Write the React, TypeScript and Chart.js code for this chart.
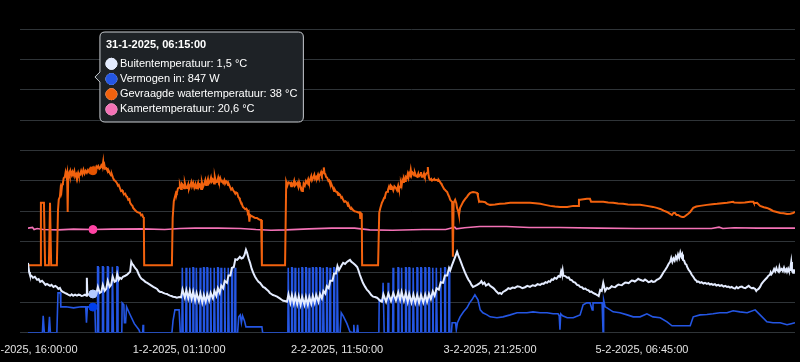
import React, { useEffect, useRef } from 'react';
import { Chart, registerables, Tooltip } from 'chart.js';

Chart.register(...registerables);

// Time axis: minutes since 30-1-2025 16:00:00
const startTimeUtc = Date.UTC(2025, 0, 30, 16, 0, 0);
const axisMaxMinute = 10100;
const tickMinutes = [0, 1990, 4070, 6085, 8085];
const hoverMinute = 855;

const seriesLabels = ['Buitentemperatuur', 'Vermogen in', 'Gevraagde watertemperatuur', 'Kamertemperatuur'];
const seriesUnits = ['°C', 'W', '°C', '°C'];
const seriesColors = ['#e4ecff', '#2456e3', '#f2620e', '#f472b6'];

// Buitentemperatuur (°C)
const buitenTemp: [number, number][] = [
  [0,10.7],[15,8.0],[25,7.2],[45,6.9],[65,6.3],[90,6.6],[120,5.7],[140,5.9],[160,5.1],[185,5.4],[210,4.8],[230,4.2],[250,4.5],[270,4.2],[290,3.9],[310,4.2],[335,3.6],[360,3.9],[380,3.6],[400,3.0],[420,3.3],[440,2.4],[460,2.1],[485,1.8],[515,1.5],[535,1.2],[555,1.0],[575,1.4],[595,1.0],[620,1.3],[645,1.0],[665,1.3],[685,1.2],[705,0.9],[725,1.0],[750,1.3],[770,1.0],[775,6.3],[782,1.2],[815,1.5],[835,1.3],[855,1.5],[880,1.6],
  [900,1.6],[920,3.6],[945,1.8],[965,2.1],[985,4.2],[1010,2.4],[1030,3.0],[1050,5.4],[1075,3.6],[1095,4.2],[1115,6.6],[1140,5.1],[1160,5.4],[1175,7.4],[1195,5.7],
  [1210,6.3],[1230,6.0],[1250,6.6],[1280,6.9],[1305,7.2],[1330,7.8],[1345,8.1],[1360,11.0],[1372,10.4],[1385,10.1],[1410,9.2],[1435,8.6],[1455,7.5],[1475,6.6],[1495,6.0],[1515,5.7],[1545,5.1],[1570,4.8],[1590,4.5],[1610,4.2],[1630,3.9],[1650,3.6],[1675,3.3],[1700,3.0],[1720,2.4],[1740,2.1],[1760,2.1],[1780,1.8],[1805,1.6],[1830,1.5],[1850,1.2],[1870,1.0],[1890,0.9],[1910,0.7],[1935,0.6],[1960,0.4],[1990,0.6],
  [2015,0.5],[2035,2.8],[2065,0.4],[2085,2.6],[2110,0.2],[2130,2.4],[2155,0.0],[2175,2.2],[2200,-0.4],[2220,1.8],[2250,-0.6],[2270,1.6],[2295,-1.0],[2315,1.2],[2340,-0.8],[2360,1.4],[2385,-0.4],[2405,1.8],[2435,0.2],[2455,2.4],[2480,1.0],[2500,3.2],[2525,1.8],[2545,4.0],[2570,3.2],[2590,5.4],[2620,4.8],[2640,7.0],[2665,7.0],[2685,9.2],[2710,9.5],[2730,11.8],[2755,11.6],
  [2790,12.5],[2810,12.0],[2830,12.2],[2850,13.0],[2870,14.6],[2885,13.7],[2905,12.0],[2925,10.7],[2945,9.0],[2965,7.8],[2990,6.6],[3015,5.7],[3035,5.1],[3055,4.8],[3075,4.2],[3095,3.6],[3120,3.3],[3150,2.7],[3165,2.4],[3185,1.8],[3205,1.5],[3225,1.2],[3250,1.0],[3280,0.7],[3300,0.4],[3320,0.1],[3340,-0.2],[3360,-0.5],[3385,-0.6],[3410,-0.8],
  [3430,1.4],[3455,-1.1],[3475,1.2],[3500,-1.3],[3520,1.0],[3545,-1.5],[3565,0.8],[3590,-1.7],[3610,0.6],[3640,-1.7],[3660,0.6],[3685,-1.7],[3705,0.6],[3730,-1.4],[3750,0.9],[3775,-1.1],[3795,1.2],[3825,-0.8],[3845,1.5],[3870,0.2],[3890,2.4],[3915,1.6],[3935,3.8],[3960,3.2],[3980,5.4],[4010,5.4],[4030,7.6],[4055,7.6],[4075,9.8],[4095,8.6],
  [4110,9.2],[4130,10.0],[4150,10.7],[4175,10.4],[4200,11.0],[4220,11.3],[4240,11.6],[4260,11.0],[4280,10.7],[4310,10.1],[4335,9.5],[4350,8.6],[4370,7.2],[4390,6.0],[4410,4.8],[4440,3.6],[4465,2.7],[4480,2.4],[4500,1.8],[4520,1.2],[4545,0.7],[4570,0.6],[4595,0.4],[4615,0.0],[4635,-0.5],[4660,-0.8],
  [4680,1.4],[4715,-0.8],[4745,1.6],[4780,-0.6],[4810,1.8],[4845,-0.4],[4875,2.0],[4900,-0.2],[4920,2.1],[4950,-0.5],[4975,1.8],[5000,-0.8],[5020,1.5],[5050,-1.0],[5075,1.3],[5100,-1.1],[5125,1.2],[5150,-1.1],[5175,1.2],[5205,-1.0],[5230,1.3],[5255,-0.8],[5280,1.5],[5305,0.0],[5330,2.3],[5355,1.0],[5380,3.2],[5410,2.8],[5435,5.0],[5465,4.8],[5490,7.0],[5520,7.0],[5545,9.2],[5560,8.5],
  [5580,9.8],[5595,10.7],[5625,12.5],[5650,14.0],[5665,13.0],[5690,11.6],[5710,10.4],[5730,9.2],[5755,7.8],[5780,6.6],[5800,5.7],[5820,5.1],[5840,4.2],[5860,3.6],[5890,3.9],[5915,4.2],[5935,4.5],[5955,4.8],[5970,5.3],[5990,4.5],[6010,4.9],[6030,4.0],[6045,4.2],[6065,4.5],[6085,3.9],[6105,3.6],[6125,3.3],[6140,3.0],[6150,2.7],[6165,2.3],[6175,2.1],[6195,1.6],[6215,1.8],[6235,1.5],[6255,2.1],[6280,2.4],[6300,2.7],[6325,3.2],[6350,3.0],[6380,3.4],[6410,3.3],[6445,3.8],[6480,3.6],[6510,3.2],[6545,3.5],[6575,3.9],[6610,3.6],[6645,4.1],[6680,3.9],[6710,4.4],[6745,4.2],[6770,4.6],[6790,4.5],[6815,5.0],[6835,4.8],[6855,5.3],[6875,5.1],[6895,5.8],[6915,5.7],[6935,6.3],[6960,6.0],[6985,6.8],[7005,6.6],[7020,8.2],[7030,7.4],[7040,8.6],[7050,6.9],[7075,6.8],[7100,6.3],[7120,6.4],[7140,5.7],[7160,5.6],[7180,5.1],[7205,4.9],[7230,4.2],[7250,4.1],[7270,3.6],[7295,3.5],[7315,3.0],[7340,3.1],[7360,2.7],[7380,2.6],[7400,2.1],[7420,2.2],[7440,1.8],[7470,1.5],[7495,1.2],[7515,0.9],[7535,2.7],[7555,2.4],[7575,4.8],[7600,2.4],[7625,3.3],[7645,3.0],[7665,3.3],[7685,3.8],[7705,3.6],[7730,3.5],[7750,3.9],[7775,4.3],[7795,4.2],[7820,4.1],[7840,4.5],[7865,4.9],[7890,4.8],[7910,4.7],[7930,5.1],[7950,5.5],[7970,5.4],[7990,5.2],[8015,5.6],[8035,6.0],[8060,5.7],[8085,5.5],[8105,5.4],[8125,5.8],[8150,5.4],[8170,5.0],[8190,5.1],[8210,5.4],[8230,5.1],[8255,5.2],[8280,5.7],[8305,6.0],[8325,6.3],[8345,7.0],[8365,7.8],[8390,8.6],[8415,9.5],[8435,10.4],[8455,11.0],[8470,12.2],[8485,11.0],[8500,12.0],[8515,11.4],[8530,12.6],[8545,11.8],[8560,13.2],[8575,12.2],[8590,13.8],[8605,12.6],[8615,13.2],[8625,11.6],[8640,11.4],[8655,10.4],[8670,10.2],[8680,9.5],[8700,8.6],[8720,8.1],[8740,7.2],[8760,6.6],[8785,5.7],[8800,5.5],[8810,5.1],[8830,5.2],[8850,4.8],[8870,5.0],[8895,4.6],[8915,4.8],[8940,4.5],[8960,4.7],[8980,4.3],[9000,4.5],[9020,4.2],[9045,4.4],[9065,4.0],[9090,4.2],[9110,3.9],[9135,4.1],[9160,3.7],[9180,3.9],[9205,3.6],[9225,3.7],[9245,3.4],[9265,3.6],[9285,3.3],[9310,3.1],[9330,3.6],[9350,3.2],[9375,3.6],[9400,3.7],[9420,3.4],[9445,3.2],[9470,3.6],[9490,3.9],[9510,3.5],[9530,3.2],[9550,3.3],[9575,3.0],[9590,2.4],[9600,2.7],[9620,3.0],[9640,3.6],[9660,4.5],[9680,5.1],[9705,5.7],[9730,6.3],[9750,6.9],[9770,7.2],[9780,7.9],[9790,7.4],[9810,8.1],[9825,8.9],[9840,8.2],[9855,9.2],[9865,8.6],[9885,8.1],[9895,9.4],[9905,8.4],[9925,8.9],[9940,8.3],[9955,9.3],[9970,8.2],[9985,8.8],[9995,8.1],[10010,9.0],[10020,8.4],[10035,8.6],[10050,11.0],[10060,8.4],[10075,7.8],[10085,8.8],[10090,8.0],[10100,8.1],
];

// Vermogen in (W)
const vermogenIn: [number, number][] = [
  [0,0],[190,0],[200,560],[215,0],[270,0],[283,525],[295,0],[380,0],[395,1315],[425,1315],[432,855],[500,855],[600,820],[700,855],[760,855],[770,330],[782,855],[855,847],[880,855],[890,0],
  [910,0],[916,2170],[924,2170],[930,0],[975,0],[981,2170],[989,2170],[995,0],[1040,0],[1046,2170],[1054,2170],[1060,0],[1105,0],[1111,2170],[1119,2170],[1125,0],[1165,0],[1171,2170],[1179,2170],[1185,0],
  [1235,0],[1240,985],[1262,920],[1270,330],[1285,330],[1298,855],[1340,620],[1400,300],[1460,100],[1475,0],[1510,0],[1515,265],[1522,0],[1895,0],[1910,400],[1935,755],[1990,755],[2005,0],
  [2027,0],[2032,2140],[2038,2140],[2043,0],[2077,0],[2082,2140],[2088,2140],[2093,0],[2122,0],[2127,2140],[2133,2140],[2138,0],[2167,0],[2172,2140],[2178,2140],[2183,0],
  [2212,0],[2217,2140],[2223,2140],[2228,0],[2262,0],[2267,2140],[2273,2140],[2278,0],[2307,0],[2312,2140],[2318,2140],[2323,0],[2352,0],[2357,2140],[2363,2140],[2368,0],
  [2397,0],[2402,2140],[2408,2140],[2413,0],[2447,0],[2452,2140],[2458,2140],[2463,0],[2492,0],[2497,2140],[2503,2140],[2508,0],[2537,0],[2542,2140],[2548,2140],[2553,0],
  [2582,0],[2587,2140],[2593,2140],[2598,0],[2632,0],[2637,2140],[2643,2140],[2648,0],[2677,0],[2682,2140],[2688,2140],[2693,0],[2722,0],[2727,2140],[2733,2140],[2738,0],
  [2760,0],[2775,525],[2795,590],[2810,330],[2825,560],[2850,400],[2870,195],[3080,195],[3090,0],[3410,0],
  [3422,0],[3427,2140],[3433,2140],[3438,0],[3467,0],[3472,2140],[3478,2140],[3483,0],[3512,0],[3517,2140],[3523,2140],[3528,0],[3557,0],[3562,2140],[3568,2140],[3573,0],
  [3602,0],[3607,2140],[3613,2140],[3618,0],[3652,0],[3657,2140],[3663,2140],[3668,0],[3697,0],[3702,2140],[3708,2140],[3713,0],[3742,0],[3747,2140],[3753,2140],[3758,0],
  [3787,0],[3792,2140],[3798,2140],[3803,0],[3837,0],[3842,2140],[3848,2140],[3853,0],[3882,0],[3887,2140],[3893,2140],[3898,0],[3927,0],[3932,2140],[3938,2140],[3943,0],
  [3972,0],[3977,2140],[3983,2140],[3988,0],[4022,0],[4027,2140],[4033,2140],[4038,0],[4067,0],[4072,2140],[4078,2140],[4083,0],
  [4110,0],[4125,660],[4150,560],[4200,300],[4240,30],[4280,0],[4290,265],[4300,0],[4330,0],[4340,265],[4350,0],[4620,0],
  [4625,1085],[4668,1085],[4676,1645],[4684,1645],[4690,0],[4737,0],[4742,1645],[4748,1645],[4753,0],
  [4802,0],[4807,2140],[4813,2140],[4818,0],[4867,0],[4872,2140],[4878,2140],[4883,0],[4912,0],[4917,2140],[4923,2140],[4928,0],[4967,0],[4972,2140],[4978,2140],[4983,0],
  [5012,0],[5017,2140],[5023,2140],[5028,0],[5067,0],[5072,2140],[5078,2140],[5083,0],[5117,0],[5122,2140],[5128,2140],[5133,0],[5167,0],[5172,2140],[5178,2140],[5183,0],
  [5222,0],[5227,2140],[5233,2140],[5238,0],[5272,0],[5277,2140],[5283,2140],[5288,0],[5322,0],[5327,2140],[5333,2140],[5338,0],[5372,0],[5377,2140],[5383,2140],[5388,0],
  [5427,0],[5432,2140],[5438,2140],[5443,0],[5482,0],[5487,2140],[5493,2140],[5498,0],[5537,0],[5542,2140],[5548,2140],[5553,0],
  [5575,0],[5585,330],[5630,330],[5640,100],[5655,330],[5690,525],[5735,690],[5780,820],[5815,985],[5845,1085],[5885,1250],[5925,1085],[5955,755],[5990,660],[6045,590],[6085,525],[6175,495],[6255,525],[6350,590],[6440,660],[6570,660],[6650,690],[6745,660],[6835,660],[6915,625],[6980,625],[6995,560],[7005,100],[7015,625],[7040,560],[7100,495],[7180,495],[7270,590],[7310,920],[7360,985],[7400,985],[7430,755],[7440,985],[7560,985],[7572,35],[7580,1085],[7600,855],[7625,820],[7705,690],[7795,660],[7890,590],[7970,525],[8060,525],[8150,625],[8230,525],[8325,495],[8415,360],[8480,230],[8720,230],[8760,525],[8850,590],[8940,600],[9020,625],[9110,660],[9205,660],[9285,725],[9375,690],[9470,660],[9575,755],[9640,590],[9730,360],[9810,330],[9905,330],[9995,265],[10050,300],[10100,330],
];

// Gevraagde watertemperatuur (°C)
const gevraagdeWaterTemp: [number, number][] = [
  [0,10],[160,10],[170,28.5],[210,28.5],[225,10],[275,10],[290,28.5],[305,10],[380,10],
  [395,26.4],[405,29.5],[420,30.3],[430,32.8],[440,31.8],[450,34.0],[460,34.4],[470,35.8],[485,36.2],[495,37.5],[505,36.4],[515,37.4],[520,37.0],[525,25.8],[530,36.8],[540,37.4],[550,36.5],[560,37.9],[575,36.8],[585,37.6],[595,36.8],[610,37.9],[620,36.3],[635,37.0],[645,36.2],[660,37.4],[670,36.5],[685,36.8],[700,38.0],[715,37.0],[730,38.3],[745,37.2],[760,38.0],[775,37.4],[790,38.2],[805,37.6],[820,38.6],[835,37.8],[855,38],[870,38.9],[885,38.2],[900,39.2],[910,38.8],[925,39.4],[940,38.6],[950,38.8],[965,39.6],[980,39.0],[990,40.6],[995,39.2],[1005,39.8],[1015,38.6],[1030,38.8],[1040,38.3],[1055,37.6],[1065,37.9],[1080,37.2],[1095,36.6],[1105,36.9],[1120,35.9],[1135,35.2],[1150,35.0],[1170,34.4],[1185,33.6],[1195,33.8],[1210,32.9],[1225,32.0],[1240,32.2],[1250,31.7],[1265,31.0],[1280,31.2],[1295,30.4],[1305,30.3],[1320,29.4],[1335,29.6],[1345,28.5],[1360,28.0],[1375,27.6],[1385,27.0],[1400,26.6],[1415,26.2],[1435,25.8],[1455,25.6],[1475,25.5],[1490,24.8],[1505,25.0],[1515,24.3],[1525,24.2],[1530,10],
  [1895,10],[1905,24],[1920,29.0],[1935,30.3],[1950,31.6],[1960,31.4],[1975,32.8],[1990,33.0],[2000,33.8],[2015,32.6],[2025,34.2],[2040,33.8],[2055,32.8],[2065,34.4],[2080,33.0],[2095,32.9],[2110,34.0],[2120,32.6],[2135,33.5],[2150,34.6],[2160,33.4],[2175,34.4],[2190,33.0],[2205,34.0],[2215,32.8],[2225,33.2],[2240,34.4],[2250,33.2],[2265,33.8],[2280,32.6],[2290,34.6],[2305,33.2],[2320,34.0],[2335,35.2],[2345,33.8],[2355,34.4],[2370,35.6],[2380,34.2],[2395,34.7],[2410,36.0],[2420,34.8],[2435,35.3],[2450,34.2],[2460,36.2],[2475,34.6],[2490,34.7],[2505,36.0],[2515,35.0],[2530,35.9],[2545,34.8],[2555,35.0],[2570,34.4],[2585,35.2],[2595,34.2],[2610,34.9],[2620,34.7],[2635,33.8],[2645,34.0],[2660,33.2],[2675,32.4],[2690,32.8],[2700,32.3],[2715,31.8],[2730,31.2],[2740,31.6],[2755,31.4],[2770,30.2],[2780,30.0],[2790,29.4],[2805,28.6],[2815,28.2],[2830,27.3],[2845,27.0],[2860,26.6],[2875,26.8],[2885,26.4],[2895,25.6],[2905,25.9],[2915,22.9],[2925,24.9],[2940,24.6],[2955,24.5],[2965,24.3],[2985,24.1],[3000,24.0],[3015,24],[3035,23.7],[3055,23.5],[3070,23.4],[3080,10],
  [3385,10],[3400,34.7],[3415,33.6],[3430,34.6],[3450,34.4],[3465,33.4],[3475,34.2],[3490,33.8],[3505,35.0],[3515,33.6],[3530,34.0],[3545,34.4],[3560,33.2],[3570,34.6],[3580,33.8],[3595,33.0],[3610,32.0],[3620,32.3],[3630,34.2],[3645,33.6],[3660,35.0],[3675,34.4],[3690,35.5],[3700,34.6],[3715,35.3],[3730,36.4],[3740,35.2],[3755,35.9],[3770,36.8],[3780,35.6],[3795,36.2],[3805,35.9],[3820,36.9],[3830,36.2],[3845,36.8],[3860,37.6],[3870,36.8],[3885,37.7],[3895,39.0],[3905,37.2],[3915,37.0],[3925,36.2],[3940,35.9],[3955,35.0],[3965,35.2],[3975,34.4],[3990,33.6],[4000,33.8],[4015,32.9],[4030,32.0],[4040,32.4],[4055,31.8],[4070,31.7],[4085,30.8],[4095,31.2],[4110,30.9],[4125,30.0],[4135,30.2],[4150,29.4],[4165,28.8],[4180,29.0],[4200,28.5],[4215,27.6],[4225,27.8],[4240,27.0],[4255,26.6],[4265,26.8],[4280,26.4],[4300,26.0],[4320,25.9],[4335,25.8],[4350,25.6],[4360,25.7],[4370,25.5],[4375,24.0],[4385,25.4],[4395,25.2],[4400,10],
  [4610,10],[4625,25.5],[4640,27.0],[4660,28.5],[4675,29.2],[4690,30.0],[4700,30.3],[4715,31.6],[4730,31.8],[4740,32.3],[4755,33.4],[4770,32.6],[4780,33.6],[4795,33.2],[4810,32.2],[4825,33.4],[4845,32.9],[4860,32.2],[4875,33.6],[4885,32.6],[4900,33.2],[4910,34.4],[4920,33.6],[4930,35.2],[4940,34.7],[4950,35.8],[4965,35.0],[4975,36.2],[4990,35.9],[5000,37.0],[5010,36.0],[5020,37.2],[5030,36.8],[5040,38.3],[5050,36.8],[5060,37.6],[5070,37.4],[5085,36.6],[5095,37.4],[5110,36.4],[5125,36.2],[5140,37.2],[5150,36.4],[5165,36.8],[5175,37.6],[5185,36.2],[5200,36.2],[5215,37.2],[5225,36.4],[5240,37.0],[5255,37.4],[5265,39.1],[5275,36.6],[5285,35.6],[5295,35.3],[5310,35.6],[5320,35.1],[5335,35.3],[5350,35.6],[5360,35.2],[5385,35.3],[5400,35.0],[5410,35.2],[5425,34.7],[5440,34.2],[5450,33.8],[5465,33.2],[5480,32.6],[5490,32.4],[5505,32.0],[5520,31.7],[5535,30.8],[5545,30.4],[5560,29.4],[5575,29.0],[5585,28.8],[5595,12.5],[5605,28.5],[5625,29.4],[5640,28.4],[5650,27.0],[5665,26.0],[5675,24.9],[5690,27.0],[5710,27.9],[5730,28.8],[5755,29.6],[5780,30.3],[5800,30.9],[5820,31.4],[5840,31.6],[5860,31.7],[5890,31.6],[5915,31.4],[5925,30.5],[5940,28.8],[5960,28.9],[5990,28.8],[6020,28.7],[6045,28.2],[6085,27.9],
  [6150,28.0],[6215,28.2],[6280,28.3],[6350,28.5],[6480,28.5],[6610,28.5],[6680,28.4],[6745,28.2],[6810,27.9],[6875,27.6],[6940,27.4],[7005,27.3],[7100,27.3],[7180,27.6],[7245,27.6],[7255,29.4],[7270,29.4],[7360,29.7],[7400,29.7],[7415,28.8],[7495,28.8],[7575,28.8],[7640,28.6],[7705,28.5],[7770,28.3],[7835,28.2],[7900,28.0],[7970,27.9],[8060,27.9],[8150,27.6],[8230,27.3],[8280,27.0],[8325,26.7],[8370,26.2],[8415,25.8],[8450,25.3],[8480,24.9],[8500,25.5],[8520,25.5],[8540,24.9],[8560,24.9],[8590,24.5],[8615,24.3],[8635,24.3],[8655,24.6],[8690,25.2],[8720,25.8],[8740,26.4],[8760,27.0],[8800,27.4],[8850,27.6],[8940,27.9],[9010,28.1],[9075,28.2],[9140,28.4],[9205,28.5],[9285,28.8],[9300,28.6],[9375,28.5],[9440,28.6],[9510,28.8],[9550,28.8],[9560,28.4],[9600,28.5],[9640,27.6],[9690,27.2],[9730,27.0],[9770,26.6],[9810,26.1],[9860,25.8],[9905,25.5],[9950,25.4],[9995,25.2],[10040,25.3],[10075,25.5],[10100,25.8],
];

// Kamertemperatuur (°C)
const kamerTemp: [number, number][] = [
  [0,21.0],[60,21.2],[80,20.6],[120,20.9],[200,20.6],[400,20.5],[600,20.7],[855,20.6],[1100,20.7],[1500,20.8],[1800,20.6],[2000,20.9],[2200,21.0],[2500,21.0],[2800,20.9],[3000,20.6],[3200,20.4],[3400,20.5],[3700,20.8],[4000,21.0],[4300,21.0],[4500,20.5],[4800,20.4],[5200,20.6],[5500,20.6],[5620,21.3],[5640,20.8],[5750,21.1],[5950,21.5],[6300,21.5],[6600,21.2],[7000,21.2],[7500,21.0],[8000,20.9],[8500,20.9],[9000,20.9],[9100,21.3],[9150,20.9],[9300,21.1],[9600,21.0],[10100,21.0],
];

const seriesData = [buitenTemp, vermogenIn, gevraagdeWaterTemp, kamerTemp];
const seriesAxis = ['yTemp', 'y', 'yTemp', 'yTemp'];
const seriesWidths = [2, 1.6, 2, 1.6];

function formatTime(min: number): string {
  const d = new Date(startTimeUtc + min * 60000);
  const p = (n: number) => String(n).padStart(2, '0');
  return `${d.getUTCDate()}-${d.getUTCMonth() + 1}-${d.getUTCFullYear()}, ${p(d.getUTCHours())}:${p(d.getUTCMinutes())}:${p(d.getUTCSeconds())}`;
}

function formatNumber(v: number): string {
  return String(v).replace('.', ',');
}

(Tooltip.positioners as any).cursorY = function (elements: any[], eventPosition: any) {
  if (!elements.length) return false;
  return { x: elements[0].element.x, y: eventPosition.y };
};

export default function App() {
  const canvasRef = useRef<HTMLCanvasElement | null>(null);

  useEffect(() => {
    document.body.style.background = '#000';
    const canvas = canvasRef.current;
    if (!canvas) return;

    const chart = new Chart(canvas, {
      type: 'line',
      data: {
        datasets: seriesData.map((data, i) => ({
          label: seriesLabels[i],
          data: data.map(([x, y]) => ({ x, y })),
          yAxisID: seriesAxis[i],
          borderColor: seriesColors[i],
          backgroundColor: seriesColors[i],
          borderWidth: seriesWidths[i],
          pointRadius: 0,
          pointHoverRadius: 4,
          tension: 0,
        })),
      },
      options: {
        animation: false,
        responsive: false,
        events: [],
        layout: { padding: { left: 20, right: 5, top: 29, bottom: 3 } },
        scales: {
          x: {
            type: 'linear',
            min: 0,
            max: axisMaxMinute,
            grid: { display: false, drawTicks: true, tickLength: 8 },
            border: { display: false },
            ticks: {
              autoSkip: false,
              maxRotation: 0,
              padding: 2.5,
              color: '#e2e2e2',
              font: { size: 11, family: "'Liberation Sans', Arial, sans-serif" },
              callback: (v: any) => formatTime(Number(v)),
            },
            afterBuildTicks: (scale: any) => {
              scale.ticks = tickMinutes.map((v) => ({ value: v }));
            },
            afterFit: (scale: any) => {
              scale.paddingLeft = 0;
              scale.paddingRight = 0;
            },
          },
          y: {
            position: 'left',
            min: 0,
            max: 10000,
            grid: { color: '#2f3438', lineWidth: 1, drawTicks: true, tickLength: 8 },
            border: { display: false },
            ticks: { display: false, stepSize: 1000 },
          },
          yTemp: {
            position: 'right',
            display: false,
            min: -10,
            max: 80,
          },
        },
        plugins: {
          legend: { display: false },
          tooltip: {
            enabled: true,
            animation: false,
            mode: 'index',
            intersect: false,
            position: 'cursorY' as any,
            backgroundColor: '#1e2226',
            borderColor: '#c9cdd2',
            borderWidth: 1,
            cornerRadius: 5,
            padding: 6,
            titleColor: '#ffffff',
            bodyColor: '#ffffff',
            titleFont: { size: 11, weight: 'bold', family: "'Liberation Sans', Arial, sans-serif" },
            bodyFont: { size: 11, family: "'Liberation Sans', Arial, sans-serif" },
            usePointStyle: true,
            boxPadding: 1,
            callbacks: {
              title: (items: any[]) => (items.length ? formatTime(items[0].parsed.x) : ''),
              label: (ctx: any) =>
                `${ctx.dataset.label}: ${formatNumber(ctx.parsed.y)} ${seriesUnits[ctx.datasetIndex]}`,
            },
          },
        },
      } as any,
    });

    const actives = seriesData.map((data, i) => ({
      datasetIndex: i,
      index: data.findIndex(([x]) => x === hoverMinute),
    }));
    const px = chart.scales.x.getPixelForValue(hoverMinute);
    chart.setActiveElements(actives);
    chart.tooltip?.setActiveElements(actives, { x: px, y: 77 });
    chart.update();

    return () => {
      chart.destroy();
    };
  }, []);

  return (
    <div style={{ position: 'absolute', left: 0, top: 0, width: 800, height: 362, background: '#000' }}>
      <canvas ref={canvasRef} width={800} height={362} style={{ display: 'block' }} />
    </div>
  );
}
